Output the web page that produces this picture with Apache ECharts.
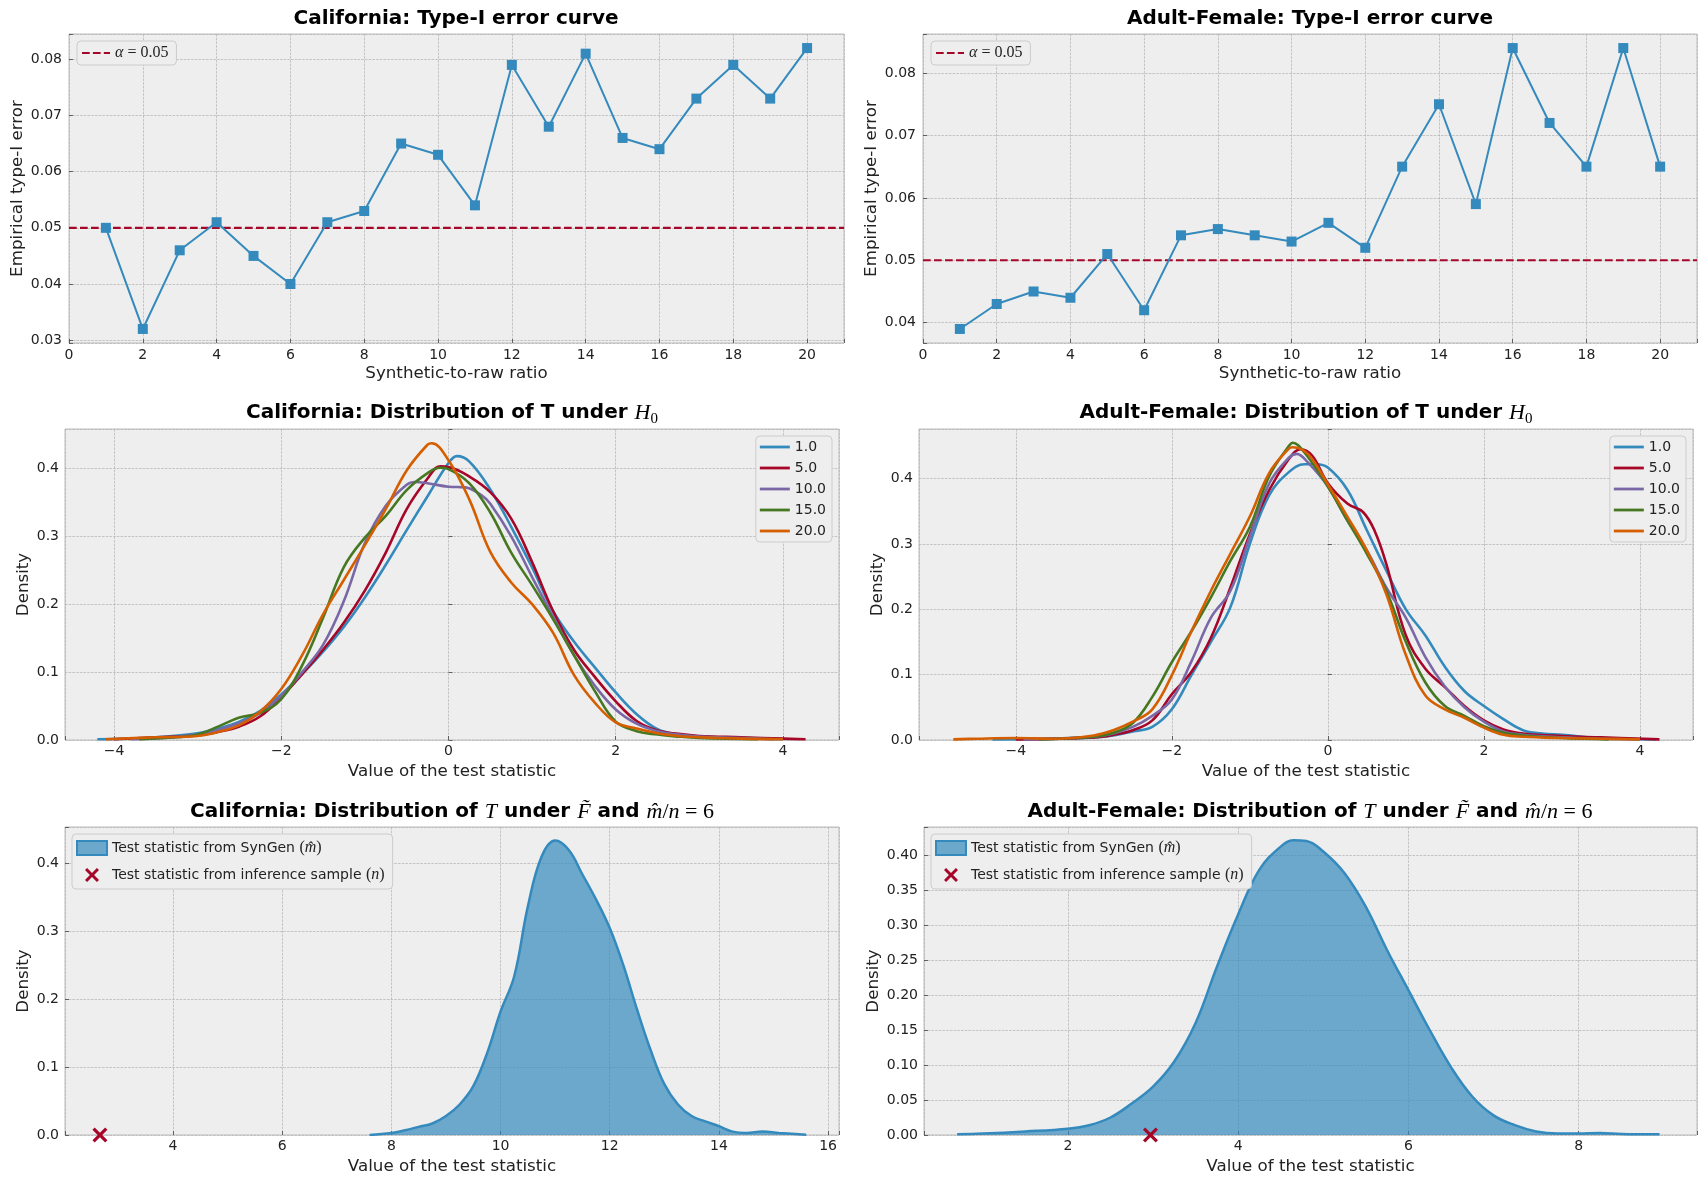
<!DOCTYPE html>
<html>
<head>
<meta charset="utf-8">
<script src="https://cdn.jsdelivr.net/npm/echarts@6/dist/echarts.min.js"></script>
<style>
  html, body { margin: 0; padding: 0; background: #fff; }
  #chart { width: 1708px; height: 1187px; }
</style>
</head>
<body>
<div id="chart"></div>
<script>
// ---------- data ----------
const ratios = [1, 2, 3, 4, 5, 6, 7, 8, 9, 10, 11, 12, 13, 14, 15, 16, 17, 18, 19, 20];
const caTypeI = [0.050, 0.032, 0.046, 0.051, 0.045, 0.040, 0.051, 0.053, 0.065, 0.063,
                 0.054, 0.079, 0.068, 0.081, 0.066, 0.064, 0.073, 0.079, 0.073, 0.082];
const afTypeI = [0.039, 0.043, 0.045, 0.044, 0.051, 0.042, 0.054, 0.055, 0.054, 0.053,
                 0.056, 0.052, 0.065, 0.075, 0.059, 0.084, 0.072, 0.065, 0.084, 0.065];
const alphaLevel = 0.05;

const h0Ratios = ['1.0', '5.0', '10.0', '15.0', '20.0'];

// California, density of T under H0 ([x, density])
const caH0_1 = [[-4.2,0.001],[-3.5,0.004],[-3,0.01],[-2.75,0.017],[-2.5,0.027],[-2.25,0.043],[-2,0.067],[-1.75,0.097],[-1.5,0.13],[-1.25,0.167],[-1,0.21],[-0.75,0.258],[-0.5,0.309],[-0.25,0.359],[0,0.408],[0.1,0.418],[0.25,0.41],[0.5,0.369],[0.75,0.314],[1,0.254],[1.25,0.19],[1.5,0.145],[1.75,0.107],[2,0.07],[2.25,0.038],[2.5,0.016],[2.75,0.008],[3,0.005],[3.5,0.003],[4,0.001]];
const caH0_5 = [[-4,0.001],[-3.5,0.004],[-3,0.007],[-2.75,0.012],[-2.5,0.02],[-2.25,0.035],[-2,0.063],[-1.75,0.097],[-1.5,0.133],[-1.25,0.173],[-1,0.22],[-0.75,0.276],[-0.5,0.34],[-0.25,0.385],[-0.1,0.403],[0,0.402],[0.25,0.388],[0.5,0.365],[0.75,0.326],[1,0.262],[1.25,0.19],[1.5,0.133],[1.75,0.093],[2,0.057],[2.25,0.028],[2.5,0.014],[2.75,0.009],[3,0.006],[3.5,0.004],[4,0.002],[4.27,0.001]];
const caH0_10 = [[-3.8,0.001],[-3,0.008],[-2.5,0.025],[-2.25,0.04],[-2,0.065],[-1.75,0.1],[-1.5,0.14],[-1.25,0.205],[-1,0.29],[-0.75,0.345],[-0.5,0.376],[-0.4,0.38],[-0.25,0.378],[0,0.373],[0.2,0.372],[0.4,0.36],[0.5,0.348],[0.75,0.3],[1,0.24],[1.25,0.182],[1.5,0.125],[1.75,0.08],[2,0.045],[2.25,0.024],[2.5,0.013],[2.75,0.008],[3,0.005],[3.5,0.003],[3.9,0.001]];
const caH0_15 = [[-3.7,0.001],[-3.25,0.004],[-3,0.008],[-2.75,0.02],[-2.5,0.033],[-2.25,0.04],[-2,0.06],[-1.75,0.11],[-1.5,0.18],[-1.25,0.255],[-1,0.298],[-0.75,0.33],[-0.5,0.368],[-0.25,0.393],[-0.1,0.401],[0,0.399],[0.25,0.378],[0.5,0.335],[0.75,0.276],[1,0.228],[1.25,0.178],[1.5,0.125],[1.75,0.072],[2,0.027],[2.25,0.013],[2.5,0.008],[2.75,0.005],[3,0.003],[3.7,0.001]];
const caH0_20 = [[-4.1,0.001],[-3.5,0.004],[-3,0.006],[-2.75,0.012],[-2.5,0.022],[-2.25,0.042],[-2,0.075],[-1.75,0.125],[-1.5,0.185],[-1.25,0.236],[-1,0.287],[-0.75,0.34],[-0.5,0.397],[-0.25,0.435],[-0.2,0.437],[0,0.412],[0.25,0.354],[0.5,0.277],[0.75,0.232],[1,0.2],[1.25,0.158],[1.5,0.096],[1.75,0.055],[2,0.026],[2.25,0.017],[2.5,0.01],[2.75,0.006],[3,0.004],[3.5,0.002],[4,0.001]];

// Adult-Female, density of T under H0
const afH0_1 = [[-4.3,0.001],[-3.5,0.002],[-3,0.004],[-2.75,0.007],[-2.5,0.013],[-2.25,0.02],[-2,0.047],[-1.75,0.099],[-1.5,0.15],[-1.25,0.203],[-1,0.3],[-0.75,0.375],[-0.5,0.41],[-0.3,0.422],[-0.15,0.422],[0,0.417],[0.25,0.383],[0.5,0.321],[0.75,0.259],[1,0.2],[1.25,0.16],[1.5,0.112],[1.75,0.075],[2,0.052],[2.25,0.032],[2.5,0.015],[2.75,0.01],[3,0.008],[3.5,0.003],[4.2,0.001]];
const afH0_5 = [[-4,0.001],[-3,0.004],[-2.75,0.008],[-2.5,0.015],[-2.25,0.03],[-2,0.07],[-1.75,0.104],[-1.5,0.156],[-1.25,0.233],[-1,0.315],[-0.75,0.383],[-0.5,0.43],[-0.35,0.445],[-0.2,0.435],[0,0.393],[0.25,0.362],[0.45,0.349],[0.6,0.32],[0.75,0.269],[1,0.16],[1.25,0.109],[1.5,0.081],[1.75,0.052],[2,0.03],[2.25,0.016],[2.5,0.01],[3,0.006],[3.5,0.004],[4.25,0.001]];
const afH0_10 = [[-3.9,0.001],[-3,0.005],[-2.75,0.01],[-2.5,0.02],[-2.25,0.037],[-2,0.062],[-1.75,0.12],[-1.5,0.187],[-1.25,0.228],[-1,0.311],[-0.75,0.393],[-0.5,0.432],[-0.4,0.438],[-0.25,0.424],[0,0.388],[0.25,0.336],[0.5,0.29],[0.75,0.233],[1,0.187],[1.25,0.127],[1.5,0.082],[1.75,0.05],[2,0.028],[2.25,0.013],[2.5,0.008],[3,0.004],[3.5,0.002],[4,0.001]];
const afH0_15 = [[-3.7,0.001],[-3,0.005],[-2.75,0.011],[-2.5,0.026],[-2.25,0.066],[-2,0.119],[-1.75,0.166],[-1.5,0.218],[-1.25,0.274],[-1,0.326],[-0.75,0.404],[-0.5,0.45],[-0.45,0.455],[-0.3,0.44],[0,0.388],[0.25,0.336],[0.5,0.285],[0.75,0.228],[1,0.15],[1.25,0.088],[1.5,0.052],[1.75,0.037],[2,0.021],[2.25,0.011],[2.5,0.007],[3,0.003],[3.6,0.001]];
const afH0_20 = [[-4.8,0.001],[-4.5,0.002],[-4,0.003],[-3.5,0.002],[-3,0.007],[-2.75,0.015],[-2.5,0.028],[-2.25,0.047],[-2,0.099],[-1.75,0.166],[-1.5,0.228],[-1.25,0.285],[-1,0.342],[-0.75,0.409],[-0.5,0.446],[-0.45,0.448],[-0.25,0.437],[0,0.391],[0.25,0.342],[0.5,0.29],[0.75,0.223],[1,0.13],[1.25,0.068],[1.5,0.047],[1.75,0.034],[2,0.019],[2.25,0.008],[2.5,0.005],[3,0.003],[3.5,0.002],[4,0.001]];

// Distribution of T under F~ with m/n = 6 (SynGen density) and the observed statistic
const caSynGen = [[7.6,0],[8,0.003],[8.25,0.007],[8.5,0.012],[8.75,0.017],[9,0.028],[9.25,0.045],[9.5,0.072],[9.75,0.12],[10,0.182],[10.25,0.234],[10.5,0.337],[10.75,0.41],[11,0.434],[11.25,0.42],[11.5,0.384],[11.75,0.347],[12,0.305],[12.25,0.25],[12.5,0.185],[12.75,0.125],[13,0.075],[13.25,0.045],[13.5,0.028],[13.75,0.02],[14,0.013],[14.25,0.005],[14.5,0.003],[14.8,0.005],[15.1,0.003],[15.6,0.0005]];
const afSynGen = [[0.7,0.001],[1,0.002],[1.5,0.005],[2,0.009],[2.25,0.014],[2.5,0.025],[2.75,0.045],[3,0.069],[3.25,0.105],[3.5,0.16],[3.75,0.24],[4,0.315],[4.25,0.379],[4.5,0.412],[4.65,0.421],[4.8,0.42],[5,0.405],[5.25,0.374],[5.5,0.326],[5.75,0.264],[6,0.207],[6.25,0.15],[6.5,0.097],[6.75,0.055],[7,0.028],[7.25,0.014],[7.5,0.005],[7.75,0.002],[8,0.002],[8.25,0.003],[8.5,0.0015],[8.95,0.001]];
const caObserved = [[2.66, 0]];
const afObserved = [[2.97, 0]];

// ---------- styling ----------
const palette = ['#348ABD', '#A60628', '#7A68A6', '#467821', '#D55E00'];
const FONT = 'DejaVu Sans';
const MATH = 'Liberation Serif';
const CROSS = 'path://M1.5,0L5,3.5L8.5,0L10,1.5L6.5,5L10,8.5L8.5,10L5,6.5L1.5,10L0,8.5L3.5,5L0,1.5Z';
const LINE_ICON = 'path://M0,0h30v2.8h-30z';
const DASH_ICON = 'path://M0,0h7.7v2.1h-7.7zM10.9,0h7.7v2.1h-7.7zM21.8,0h6.2v2.1h-6.2z';
const SYN_NAME = 'Test statistic from SynGen (m)';
const OBS_NAME = 'Test statistic from inference sample (n)';
const ALPHA_NAME = 'alpha = 0.05';

const panels = [
  { left: 69, top: 34, width: 775, height: 309 },
  { left: 923, top: 34, width: 774, height: 309 },
  { left: 65, top: 429, width: 774, height: 311 },
  { left: 919, top: 429, width: 774, height: 311 },
  { left: 65, top: 827, width: 774, height: 308 },
  { left: 924, top: 827, width: 773, height: 308 }
];

function onStep(v, step) {
  const r = v / step;
  return Math.abs(r - Math.round(r)) < 1e-6;
}

function tickText(step, digits) {
  return function (v) {
    if (!onStep(v, step)) return '';
    if (Math.abs(v) < 1e-9) v = 0;
    return v.toFixed(digits).replace('-', '\u2212');
  };
}

function makeAxis(gi, min, max, step, digits, name, nameGap, margin) {
  return {
    type: 'value', gridIndex: gi, min: min, max: max,
    minInterval: step, maxInterval: step,
    name: name, nameLocation: 'middle', nameGap: nameGap,
    nameTextStyle: { fontFamily: FONT, fontSize: 16.7, color: '#222' },
    axisLine: { show: false },
    axisTick: { show: true, inside: true, length: 4, lineStyle: { color: '#444', width: 0.8 } },
    axisLabel: { fontFamily: FONT, fontSize: 14, color: '#222', margin: margin, formatter: tickText(step, digits) },
    splitLine: { show: true, lineStyle: { color: '#b2b2b2', width: 0.7, type: [2.6, 1.1] } }
  };
}

const titleRich = {
  b: { fontFamily: FONT, fontWeight: 'bold', fontSize: 20, color: '#000', lineHeight: 28 },
  m: { fontFamily: MATH, fontStyle: 'italic', fontWeight: 'normal', fontSize: 22, color: '#000', lineHeight: 28 },
  u: { fontFamily: MATH, fontWeight: 'normal', fontSize: 22, color: '#000', lineHeight: 28 },
  s: { fontFamily: MATH, fontWeight: 'normal', fontSize: 15, color: '#000', lineHeight: 16, verticalAlign: 'bottom' }
};

function makeTitle(text, cx, top) {
  return {
    text: text, left: cx, top: top, textAlign: 'center', padding: 0,
    textStyle: { rich: titleRich, fontFamily: FONT, fontWeight: 'bold', fontSize: 20, color: '#000' }
  };
}

const legendRich = {
  t: { fontFamily: FONT, fontSize: 14, color: '#222' },
  m: { fontFamily: MATH, fontStyle: 'italic', fontSize: 16, color: '#222' },
  u: { fontFamily: MATH, fontSize: 16, color: '#222' }
};

function legendLabel(name) {
  if (name === ALPHA_NAME) return '{m|\u03b1}{u| = 0.05}';
  if (name === SYN_NAME) return '{t|Test statistic from SynGen }{u|(}{m|m\u0302}{u|)}';
  if (name === OBS_NAME) return '{t|Test statistic from inference sample }{u|(}{m|n}{u|)}';
  return name;
}

function makeLegend(pos, data, extra) {
  return Object.assign({
    orient: 'vertical', selectedMode: false,
    backgroundColor: '#eeeeee', borderColor: '#cccccc', borderWidth: 1, borderRadius: 4,
    itemWidth: 30, itemHeight: 14, itemGap: 7,
    textStyle: { fontFamily: FONT, fontSize: 14, color: '#222', rich: legendRich },
    formatter: legendLabel,
    data: data
  }, pos, extra);
}

// ---------- series ----------
const series = [];

[[0, caTypeI], [1, afTypeI]].forEach(function (p) {
  const gi = p[0];
  series.push({
    type: 'line', name: ALPHA_NAME, xAxisIndex: gi, yAxisIndex: gi,
    data: [[0, alphaLevel], [21, alphaLevel]], symbol: 'none', silent: true,
    lineStyle: { color: palette[1], width: 2.1, type: [7.7, 3.3] }, itemStyle: { color: palette[1] }, z: 2
  });
  series.push({
    type: 'line', name: 'typeI' + gi, xAxisIndex: gi, yAxisIndex: gi,
    data: ratios.map(function (r, i) { return [r, p[1][i]]; }),
    symbol: 'rect', symbolSize: 10, showSymbol: true,
    lineStyle: { color: palette[0], width: 2 }, itemStyle: { color: palette[0] }, z: 3
  });
});

const h0Sets = [[2, [caH0_1, caH0_5, caH0_10, caH0_15, caH0_20]], [3, [afH0_1, afH0_5, afH0_10, afH0_15, afH0_20]]];
h0Sets.forEach(function (p) {
  const gi = p[0];
  p[1].forEach(function (curve, k) {
    series.push({
      type: 'line', name: h0Ratios[k], xAxisIndex: gi, yAxisIndex: gi,
      data: curve, symbol: 'none', smooth: 0.4,
      lineStyle: { color: palette[k], width: 2.6 }, itemStyle: { color: palette[k] }, z: 2 + k
    });
  });
});

[[4, caSynGen, caObserved], [5, afSynGen, afObserved]].forEach(function (p) {
  const gi = p[0];
  series.push({
    type: 'line', name: SYN_NAME, xAxisIndex: gi, yAxisIndex: gi,
    data: p[1], symbol: 'none', smooth: 0.4,
    lineStyle: { color: palette[0], width: 2.5 }, itemStyle: { color: palette[0] },
    areaStyle: { color: palette[0], opacity: 0.7 }, z: 2
  });
  series.push({
    type: 'scatter', name: OBS_NAME, xAxisIndex: gi, yAxisIndex: gi,
    data: p[2], symbol: CROSS, symbolSize: 15, clip: false,
    itemStyle: { color: palette[1], opacity: 1 }, z: 5
  });
});

const alphaLegend = [{ name: ALPHA_NAME, icon: DASH_ICON, itemStyle: { color: palette[1], borderWidth: 0 } }];
const h0Legend = h0Ratios.map(function (n, k) {
  return { name: n, icon: LINE_ICON, itemStyle: { color: palette[k], borderWidth: 0 } };
});
const tLegend = [
  { name: SYN_NAME, icon: 'rect', itemStyle: { color: 'rgba(52,138,189,0.7)', borderColor: palette[0], borderWidth: 2, opacity: 1 } },
  { name: OBS_NAME, icon: CROSS, itemStyle: { color: palette[1], borderWidth: 0, opacity: 1 } }
];

const option = {
  animation: false,
  backgroundColor: '#ffffff',
  title: [
    makeTitle('{b|California: Type-I error curve}', 456, 5),
    makeTitle('{b|Adult-Female: Type-I error curve}', 1310, 5),
    makeTitle('{b|California: Distribution of T under }{m|H}{s|0}', 452, 399),
    makeTitle('{b|Adult-Female: Distribution of T under }{m|H}{s|0}', 1306, 399),
    makeTitle('{b|California: Distribution of }{m|T}{b| under }{m|F\u0303}{b| and }{m|m\u0302}{u|/}{m|n}{u| = 6}', 452, 798),
    makeTitle('{b|Adult-Female: Distribution of }{m|T}{b| under }{m|F\u0303}{b| and }{m|m\u0302}{u|/}{m|n}{u| = 6}', 1310, 798)
  ],
  legend: [
    makeLegend({ left: 77, top: 41 }, alphaLegend, { itemWidth: 28, padding: [4, 8, 4, 5] }),
    makeLegend({ left: 931, top: 41 }, alphaLegend, { itemWidth: 28, padding: [4, 8, 4, 5] }),
    makeLegend({ right: 876, top: 436 }, h0Legend, { padding: [4, 6, 4, 4] }),
    makeLegend({ right: 22, top: 436 }, h0Legend, { padding: [4, 6, 4, 4] }),
    makeLegend({ left: 72, top: 834 }, tLegend, { itemGap: 11, padding: [6, 8, 6, 4] }),
    makeLegend({ left: 931, top: 834 }, tLegend, { itemGap: 11, padding: [6, 8, 6, 4] })
  ],
  grid: panels.map(function (g) {
    return Object.assign({ show: true, backgroundColor: '#eeeeee', borderColor: '#bcbcbc', borderWidth: 1, containLabel: false, outerBoundsMode: 'none' }, g);
  }),
  xAxis: [
    makeAxis(0, 0, 21, 2, 0, 'Synthetic-to-raw ratio', 22, 5),
    makeAxis(1, 0, 21, 2, 0, 'Synthetic-to-raw ratio', 22, 5),
    makeAxis(2, -4.586, 4.67, 2, 0, 'Value of the test statistic', 23, 4),
    makeAxis(3, -5.24, 4.68, 2, 0, 'Value of the test statistic', 23, 4),
    makeAxis(4, 2.02, 16.2, 2, 0, 'Value of the test statistic', 23, 4),
    makeAxis(5, 0.31, 9.39, 2, 0, 'Value of the test statistic', 23, 4)
  ],
  yAxis: [
    makeAxis(0, 0.0295, 0.0845, 0.01, 2, 'Empirical type-I error', 43, 7),
    makeAxis(1, 0.03675, 0.08625, 0.01, 2, 'Empirical type-I error', 43, 7),
    makeAxis(2, 0, 0.458, 0.1, 1, 'Density', 33, 6),
    makeAxis(3, 0, 0.476, 0.1, 1, 'Density', 33, 6),
    makeAxis(4, 0, 0.454, 0.1, 1, 'Density', 33, 6),
    makeAxis(5, 0, 0.44, 0.05, 2, 'Density', 42, 6)
  ],
  series: series
};

const chart = echarts.init(document.getElementById('chart'), null, { renderer: 'canvas' });
chart.setOption(option);
</script>
</body>
</html>
